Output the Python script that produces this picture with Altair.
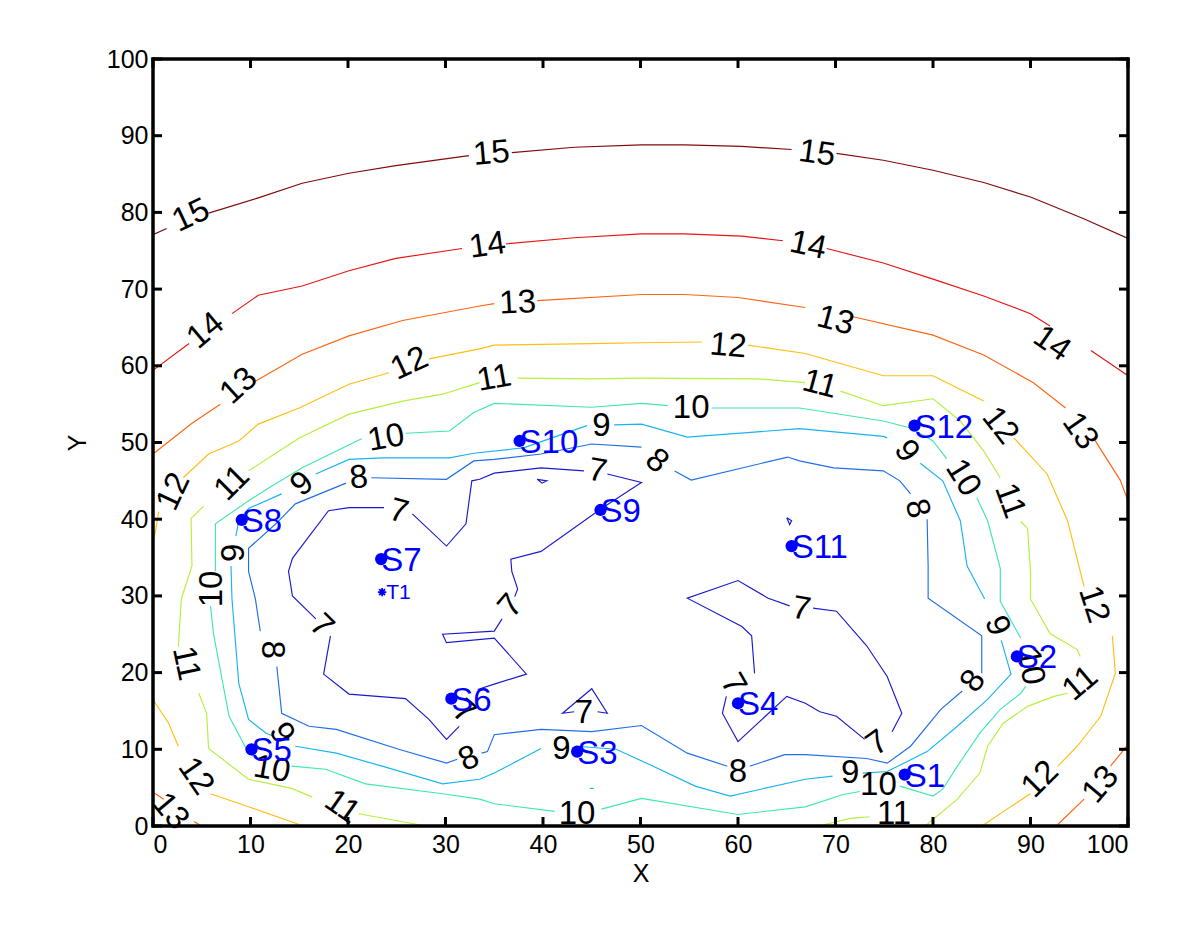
import altair as alt
import pandas as pd

# ---------------- contour polylines (x, y), split where labels sit ----------------
levels = [7, 8, 9, 10, 11, 12, 13, 14, 15]
level_colors = ["#1a1acd", "#1f6fe6", "#18b4f0", "#40e6b4", "#b4f03c",
                "#ffbe14", "#ff6414", "#e61414", "#820a0a"]

c15 = [
    [(0, 77.1), (1.4, 77.9)],
    [(5.7, 79.9), (10.8, 81.9), (15.3, 83.8), (20.1, 85.1), (24.9, 86.1), (32.4, 87.4)],
    [(36.8, 87.8), (43.2, 88.5), (50.1, 88.8), (54.5, 88.8), (60.4, 88.6), (65.5, 88.2)],
    [(70.1, 87.7), (74.9, 86.8), (80, 85.5), (85.2, 83.9), (90, 82), (95.4, 79.2), (100, 76.6)],
]
c14 = [
    [(0, 59.4), (3.7, 62.9)],
    [(8.1, 66.8), (10.8, 69.2), (15.3, 70.4), (20.1, 72.4), (24.9, 74), (31.7, 75.3)],
    [(36.2, 75.9), (43.2, 76.7), (50.1, 77.2), (54.5, 77.2), (60.4, 76.9), (64.6, 76.3)],
    [(69.1, 75.3), (74.9, 73.4), (80, 71.3), (85.2, 69.1), (90, 66.8), (92, 65.2)],
    [(96.2, 62), (100, 58.7)],
]
c13 = [
    [(0, 48.5), (4, 52.5), (6.9, 55)],
    [(10.5, 58), (15.3, 61.5), (20.1, 63.9), (25.6, 65.9), (33.5, 67.8), (35, 68.1)],
    [(39.4, 68.5), (50.1, 69.3), (54.5, 69.3), (60, 68.9), (66.9, 67.6)],
    [(71.8, 66.4), (80, 64), (85.2, 61.4), (90.3, 57.8), (93.6, 54.5)],
    [(96.5, 50.5), (99.2, 45.1), (100, 42.4)],
    [(100, 10.6), (98.2, 7.8)],
    [(95.5, 3.5), (92.8, 0.2)],
    [(0, 4.4), (1.1, 3.5)],
    [(4.2, 0.6), (5, 0)],
]
c12 = [
    [(0, 36.7), (0.6, 41)],
    [(3.1, 45.4), (5.7, 48.5), (8.8, 50.2), (10.8, 52.4), (15, 54.5), (20.1, 57.6), (24.2, 59.1)],
    [(28.3, 60.9), (33.5, 62.2), (35, 62.7), (45, 62.9), (50.1, 63), (56.3, 63.1)],
    [(61, 62.7), (66.9, 61.6), (74.9, 58.7), (80, 58.7), (85.2, 55.4)],
    [(88.3, 50.6), (91.7, 45.9), (93.8, 39.8), (95.1, 33.2), (95.5, 31.2)],
    [(98.4, 24.8), (98.7, 19.9), (97.2, 14.3), (94.8, 10.4), (92.8, 7.8)],
    [(90, 4.2), (87.6, 2.2), (85, 0)],
    [(0, 16.5), (1.6, 13.4), (2.6, 10.4)],
    [(5.9, 4.2), (9.8, 2.5), (15, 0.2)],
]
c11 = [
    [(28, 0), (21.1, 1.6)],
    [(16.3, 3.8), (14.2, 4.9), (9.8, 6.1), (5.7, 10.1), (5.5, 14.7), (4.7, 17.3)],
    [(2.6, 23.4), (2.9, 29.6), (4, 33.9), (3.9, 40.1), (5.2, 41.7)],
    [(9.8, 46.3), (15, 50.6), (20.1, 53.7), (25.6, 55.4), (29.7, 56.3), (33.5, 57.8)],
    [(37.4, 58.4), (45, 58.3), (50.1, 58.4), (62, 58.3), (66.9, 57.8)],
    [(70.5, 56.7), (74.9, 54.8), (80, 55.7), (82.8, 52.8), (85.2, 48.9), (86.9, 45.4)],
    [(89, 39.7), (89.7, 38.8), (90, 33.2), (90, 29.6), (92, 25.1), (94.8, 23), (95.1, 22.1)],
    [(93.8, 17.3), (92.4, 16.9), (89.7, 15.6), (87.2, 13.4), (85.6, 10.4), (84.8, 6.9), (82.5, 3.5), (79.2, 0)],
    [(68.3, 0), (71.5, 1), (73.5, 1.2)],
]
c10 = [
    [(89, 24.5), (86.9, 29.3), (86.9, 33.6), (85.6, 39.8), (84.5, 42.8)],
    [(81.4, 47.9), (80, 50.2), (77.7, 51.9), (74.9, 52.8), (66.3, 54.5), (57.3, 54.5)],
    [(52.8, 54.8), (50.1, 55.1), (45, 54.6), (35, 55.1), (32.9, 53.9), (30.4, 51.5), (25.9, 51.2)],
    [(21.4, 50.5), (15.3, 46.7), (11.9, 44.1), (9.8, 42.4), (6.4, 39.4), (6.4, 33.2)],
    [(5.9, 28.7), (6.2, 25.1), (7.8, 14.3), (9.8, 9.5), (10.3, 9.1)],
    [(14.2, 7.8), (17.7, 7.4), (21.8, 5.5), (29.7, 4.2), (33.5, 3.5), (35, 2.9), (41.2, 1.9)],
    [(46, 2.2), (50.1, 3.6), (60, 1.5), (66.9, 2.5), (70.8, 4.1), (72.5, 4.5)],
    [(76.6, 5.2), (80, 3.9), (81, 4.8), (82.5, 7.8), (84.8, 12.1), (86.9, 15.2), (89, 17.3), (89.5, 18.2)],
]
c9 = [
    [(85.3, 29.6), (83.5, 33.9), (82.8, 39.8), (81, 45), (78.7, 47.3)],
    [(75.3, 50.6), (74.9, 50.8), (66.3, 51.8), (54.8, 50.7), (50.1, 52.4), (47.3, 52.3)],
    [(44.5, 52.2), (38, 49.3), (32.9, 48.6), (30.4, 48), (23.5, 48), (20.1, 47.8), (16.7, 45.9)],
    [(13.2, 43.3), (9.8, 41.4), (8.8, 39.8), (8.5, 37.8)],
    [(8, 33.9), (8.1, 29.6), (8.8, 18.6), (9.8, 13.9), (11.6, 12.1), (12.4, 11.7)],
    [(14.6, 10.4), (18.8, 9.5), (23.5, 7.8), (29.7, 5.5), (33.5, 6.1), (35, 6.9), (39.8, 10.1)],
    [(43.4, 10.4), (47.5, 10), (51.3, 7.8), (55.6, 5.2), (59.2, 3.9), (66.9, 6.1), (69.7, 6.5)],
    [(72.8, 6.9), (75.3, 7.1), (79.4, 9.7), (82.5, 13), (85.6, 16.5), (88, 19.8), (87, 24.2)],
    [(44.8, 4.9), (45.2, 4.9)],
]
c8 = [
    [(50.1, 49.4), (45, 49.8), (39.8, 48.5), (35, 47.8), (32.9, 47.6), (30.1, 45.2), (22.4, 45.4)],
    [(19.8, 44.7), (14.6, 42), (12.6, 39.4), (9.8, 36.2), (9.8, 33.2), (10.5, 29.6), (11, 25.4)],
    [(12.7, 20.8), (13.2, 14.7), (16, 13), (18.8, 12.6), (25.2, 10), (30.1, 8.2), (31.2, 8.7)],
    [(33.7, 9.5), (34.3, 9.7), (35, 11.9), (39.8, 12.6), (45, 12.3), (50.1, 13.1), (54.8, 9.5), (58.9, 7.8)],
    [(61.2, 7.8), (64.8, 9.3), (66.9, 9.3), (73.2, 8.8), (75.3, 8.2), (77.7, 10.4), (80.8, 15.2), (83, 17.6)],
    [(85, 19.9), (85, 24.8), (79.5, 29.7), (79.5, 33.9), (79.4, 40)],
    [(77.7, 43.3), (76.6, 45), (74.9, 46.3), (69.8, 46.7), (66.3, 47.6), (65.1, 48.1), (55.2, 45.1), (53.5, 46.3)],
]
c7 = [
    [(26.6, 40.7), (30.1, 36.5), (32.1, 39.4), (32.7, 45), (33.5, 45.2), (35, 46), (39.8, 46.7), (44.2, 46.3)],
    [(46.6, 45.9), (50.1, 44.8), (46, 41.4), (39.8, 35.8), (36.7, 34.8), (36.8, 33.2), (37.4, 30.9), (37.1, 29.9)],
    [(35.8, 27), (35, 25.4), (29.7, 25), (30.1, 23.9), (35, 24.5), (38.3, 19.8), (35, 18.5), (33.3, 17.8)],
    [(31.4, 13), (30.1, 11.3), (28.3, 13.9), (25.9, 16.6), (20.1, 17.2), (17.5, 19.8), (18.2, 24.8)],
    [(16.7, 27), (14.3, 30), (13.9, 33.2), (14.3, 34.9), (18, 41.1), (20.1, 41.5), (23.7, 41.5)],
    [(67.7, 28.4), (70.1, 28), (73.2, 23.5), (75.3, 19.5), (76.8, 14.7), (75.8, 12.3)],
    [(73, 11.3), (70.1, 14.3), (68.4, 14.9), (66.9, 16), (65, 16.9), (60, 11), (58.4, 14.7), (58.8, 16.9)],
    [(61.7, 19.9), (61.4, 24.8), (60.4, 26), (54.8, 29.7), (60, 32), (63.1, 29.7), (65.3, 28.7)],
    [(43.2, 14.9), (42, 14.7), (45, 17.9), (46.6, 14.7), (45.6, 14.9)],
    [(39.4, 45.2), (40.4, 45), (39.9, 44.7), (39.4, 45.2)],
    [(65, 40.2), (65.5, 39.8), (65.3, 39.3), (65, 40.2)],
]

# ---------------- contour labels ----------------
lab_text = ["15", "15", "15",
            "14", "14", "14", "14",
            "13", "13", "13", "13", "13", "13",
            "12", "12", "12", "12", "12", "12", "12",
            "11", "11", "11", "11", "11", "11", "11", "11",
            "10", "10", "10", "10", "10", "10", "10", "10",
            "9", "9", "9", "9", "9", "9", "9", "9",
            "8", "8", "8", "8", "8", "8", "8",
            "7", "7", "7", "7", "7", "7", "7", "7", "7"]
lab_x = [3.9, 34.7, 68.1,
         5.4, 34.3, 67.2, 92.2,
         8.8, 37.4, 70.0, 95.1, 97.2, 1.8,
         2.1, 26.3, 59.0, 86.9, 96.5, 91.0, 4.4,
         8.1, 35.0, 68.4, 87.9, 95.1, 3.4, 19.4, 76.0,
         23.9, 55.2, 83.1, 90.0, 6.0, 12.2, 43.5, 74.4,
         46.0, 15.3, 13.2, 41.9, 71.5, 86.6, 77.3, 8.3,
         21.1, 51.7, 78.4, 84.1, 32.4, 60.0, 12.2,
         25.2, 45.6, 36.7, 17.3, 31.9, 44.2, 59.5, 66.5, 74.3]
lab_y = [79.6, 87.7, 87.7,
         64.6, 75.7, 75.7, 62.9,
         57.4, 68.2, 65.9, 51.5, 5.4, 1.9,
         43.6, 60.3, 62.6, 52.2, 28.9, 6.1, 6.5,
         44.7, 58.4, 57.6, 42.4, 18.6, 21.2, 2.5, 1.5,
         50.6, 54.5, 45.4, 20.8, 30.9, 7.4, 1.6, 5.4,
         52.2, 44.6, 12.1, 10.0, 6.9, 26.1, 48.9, 35.6,
         45.4, 47.6, 41.4, 18.9, 8.8, 7.1, 23.0,
         41.0, 46.3, 28.7, 26.1, 14.9, 14.7, 18.5, 28.3, 10.8]
lab_angle = [335, 355, 8,
             320, 352, 12, 35,
             318, 357, 15, 55, 310, 50,
             295, 335, 5, 52, 72, 315, 55,
             315, 350, 15, 70, 320, 78, 35, 0,
             350, 0, 58, 80, 270, 10, 0, 0,
             0, 320, 60, 0, 0, 70, 55, 270,
             355, 40, 75, 305, 335, 0, 90,
             15, 10, 310, 45, 40, 0, 60, 10, 325]

# ---------------- sensors ----------------
sensor_names = ["S1", "S2", "S3", "S4", "S5", "S6", "S7", "S8", "S9", "S10", "S11", "S12"]
sensor_x = [77.1, 88.6, 43.5, 60.0, 10.1, 30.6, 23.4, 9.1, 45.9, 37.6, 65.5, 78.1]
sensor_y = [6.7, 22.1, 9.7, 16.0, 10.0, 16.6, 34.8, 39.9, 41.2, 50.2, 36.5, 52.2]
target_name = ["T1"]
target_x = [23.5]
target_y = [30.5]

tick_values = [0, 10, 20, 30, 40, 50, 60, 70, 80, 90, 100]

# ---------------- build tables ----------------
rows = []
for lev, segs in zip(levels, [c7, c8, c9, c10, c11, c12, c13, c14, c15]):
    for si, seg in enumerate(segs):
        for i, (x, y) in enumerate(seg):
            rows.append({"x": x, "y": y, "level": str(lev), "seg": f"{lev}_{si}", "i": i})
lines_df = pd.DataFrame(rows)
labels_df = pd.DataFrame({"x": lab_x, "y": lab_y, "t": lab_text, "a": lab_angle})
sens_df = pd.DataFrame({"x": sensor_x, "y": sensor_y, "n": sensor_names})
targ_df = pd.DataFrame({"x": target_x, "y": target_y, "n": target_name})
ticks_df = pd.DataFrame({"v": tick_values})

W, H = 975, 767
FONT = "Liberation Sans"

xs = alt.Scale(domain=[0, 100], nice=False, zero=False)
ys = alt.Scale(domain=[0, 100], nice=False, zero=False)

xaxis = alt.Axis(values=tick_values, grid=False, ticks=False, domain=False,
                 labelFont=FONT, labelFontSize=25, labelColor="black", labelPadding=6,
                 title="X", titleFont=FONT, titleFontSize=25, titleFontWeight="normal",
                 titleColor="black", titlePadding=4)
yaxis = alt.Axis(values=tick_values, grid=False, ticks=False, domain=False,
                 labelFont=FONT, labelFontSize=25, labelColor="black", labelPadding=5,
                 title="Y", titleFont=FONT, titleFontSize=25, titleFontWeight="normal",
                 titleColor="black", titlePadding=16)

lines = alt.Chart(lines_df).mark_line(strokeWidth=1.15, clip=True).encode(
    x=alt.X("x:Q", scale=xs, axis=xaxis),
    y=alt.Y("y:Q", scale=ys, axis=yaxis),
    color=alt.Color("level:N", scale=alt.Scale(domain=[str(l) for l in levels], range=level_colors), legend=None),
    detail="seg:N",
    order="i:Q",
)

labels = alt.Chart(labels_df).mark_text(font=FONT, fontSize=33, color="black",
                                        align="center", baseline="middle").encode(
    x=alt.X("x:Q", scale=xs), y=alt.Y("y:Q", scale=ys),
    text="t:N", angle=alt.Angle("a:Q", scale=None),
)

pts = alt.Chart(sens_df).mark_point(filled=True, shape="circle", size=150, color="#0000ff", opacity=1).encode(
    x=alt.X("x:Q", scale=xs), y=alt.Y("y:Q", scale=ys))
pt_text = alt.Chart(sens_df).mark_text(font=FONT, fontSize=33, color="#0000ff",
                                       align="left", baseline="middle", dx=0, dy=2).encode(
    x=alt.X("x:Q", scale=xs), y=alt.Y("y:Q", scale=ys), text="n:N")

star = alt.Chart(targ_df).mark_point(
    shape="M-1,0L1,0M0,-1L0,1M-0.7,-0.7L0.7,0.7M-0.7,0.7L0.7,-0.7",
    size=70, color="#0000ff", strokeWidth=1.8, opacity=1).encode(
    x=alt.X("x:Q", scale=xs), y=alt.Y("y:Q", scale=ys))
star_text = alt.Chart(targ_df).mark_text(font=FONT, fontSize=21, color="#0000ff",
                                         align="left", baseline="middle", dx=4, dy=1).encode(
    x=alt.X("x:Q", scale=xs), y=alt.Y("y:Q", scale=ys), text="n:N")

TL = 9
tb = alt.Chart(ticks_df).mark_rule(color="black", strokeWidth=3).encode(
    x=alt.X("v:Q", scale=xs), y=alt.value(H), y2=alt.value(H - TL))
tt = alt.Chart(ticks_df).mark_rule(color="black", strokeWidth=3).encode(
    x=alt.X("v:Q", scale=xs), y=alt.value(0), y2=alt.value(TL))
tl = alt.Chart(ticks_df).mark_rule(color="black", strokeWidth=3).encode(
    y=alt.Y("v:Q", scale=ys), x=alt.value(0), x2=alt.value(TL))
tr = alt.Chart(ticks_df).mark_rule(color="black", strokeWidth=3).encode(
    y=alt.Y("v:Q", scale=ys), x=alt.value(W), x2=alt.value(W - TL))

frame_df = pd.DataFrame({"side": ["frame"]})
f_top = alt.Chart(frame_df).mark_rule(color="black", strokeWidth=3.5).encode(
    x=alt.value(-1.5), x2=alt.value(W + 1.5), y=alt.value(0))
f_bot = alt.Chart(frame_df).mark_rule(color="black", strokeWidth=3.5).encode(
    x=alt.value(-1.5), x2=alt.value(W + 1.5), y=alt.value(H))
f_left = alt.Chart(frame_df).mark_rule(color="black", strokeWidth=3.5).encode(
    y=alt.value(-1.5), y2=alt.value(H + 1.5), x=alt.value(0))
f_right = alt.Chart(frame_df).mark_rule(color="black", strokeWidth=3.5).encode(
    y=alt.value(-1.5), y2=alt.value(H + 1.5), x=alt.value(W))

chart = alt.layer(lines, labels, pts, pt_text, star, star_text,
                  tb, tt, tl, tr, f_top, f_bot, f_left, f_right).properties(
    width=W, height=H,
    autosize=alt.AutoSizeParams(type="none"),
    padding={"left": 145, "top": 51, "right": 60, "bottom": 100},
).configure_view(stroke=None).configure(background="white")

chart.save("out.html", embed_options={"renderer": "svg", "actions": False})
